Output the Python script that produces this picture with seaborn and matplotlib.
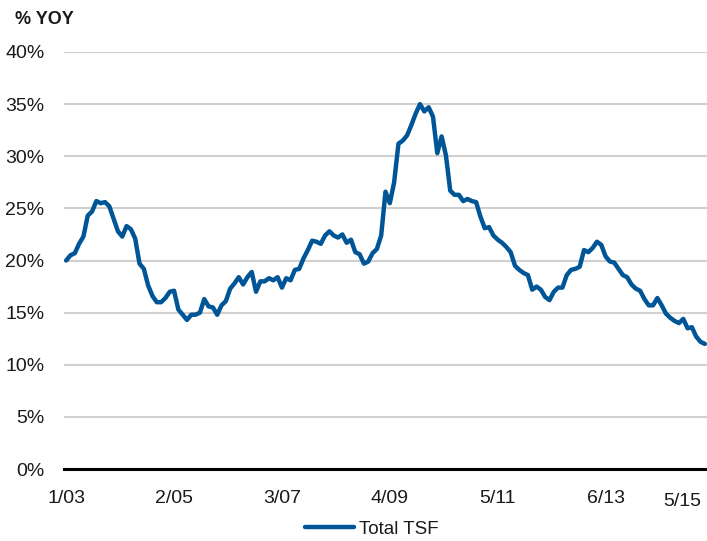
import numpy as np
import pandas as pd
import matplotlib
matplotlib.use("Agg")
import matplotlib.pyplot as plt
import matplotlib.transforms as mtransforms
from matplotlib import font_manager
import seaborn as sns

# ---- data ----
start_month = "2003-01"
tsf_yoy = [
    20.0, 20.5, 20.7, 21.6, 22.3, 24.3, 24.7, 25.7, 25.5, 25.6, 25.2, 24.0,
    22.8, 22.3, 23.3, 23.0, 22.1, 19.7, 19.2, 17.6, 16.6, 16.0, 16.0, 16.4,
    17.0, 17.1, 15.3, 14.8, 14.3, 14.8, 14.8, 15.0, 16.3, 15.6, 15.5, 14.8,
    15.7, 16.1, 17.3, 17.8, 18.4, 17.7, 18.4, 18.9, 17.0, 18.0, 18.0, 18.3,
    18.1, 18.4, 17.4, 18.3, 18.1, 19.1, 19.2, 20.2, 21.0, 21.9, 21.8, 21.6,
    22.4, 22.8, 22.4, 22.2, 22.5, 21.7, 22.0, 20.8, 20.6, 19.7, 19.9, 20.7,
    21.1, 22.4, 26.6, 25.5, 27.5, 31.2, 31.5, 32.0, 33.0, 34.1, 35.0, 34.3,
    34.7, 33.8, 30.3, 31.9, 30.1, 26.7, 26.3, 26.3, 25.7, 25.9, 25.7, 25.6,
    24.2, 23.1, 23.2, 22.4, 22.0, 21.7, 21.3, 20.8, 19.5, 19.1, 18.8, 18.6,
    17.2, 17.5, 17.2, 16.5, 16.2, 17.0, 17.4, 17.4, 18.6, 19.1, 19.2, 19.4,
    21.0, 20.8, 21.2, 21.8, 21.5, 20.4, 19.9, 19.8, 19.2, 18.6, 18.4, 17.7,
    17.3, 17.1, 16.3, 15.7, 15.7, 16.4, 15.7, 14.9, 14.5, 14.2, 14.0, 14.4,
    13.5, 13.6, 12.7, 12.2, 12.0,
]
tick_dates = ["2003-01", "2005-02", "2007-03", "2009-04", "2011-05", "2013-06", "2015-05"]
y_ticks = [0, 5, 10, 15, 20, 25, 30, 35, 40]
series_name = "Total TSF"
y_title = "% YOY"

dates = pd.date_range(start_month, periods=len(tsf_yoy), freq="MS")
df = pd.DataFrame({"date": dates, "idx": np.arange(len(tsf_yoy)), "value": tsf_yoy})

# ---- fonts ----
available = {f.name for f in font_manager.fontManager.ttflist}
fam = "Liberation Sans Narrow" if "Liberation Sans Narrow" in available else "Liberation Sans"

sns.set_theme(style="white")
plt.rcParams["font.family"] = [fam, "DejaVu Sans"]

W, H = 707, 541
fig = plt.figure(figsize=(W / 100, H / 100), dpi=100)
left, right, bottom, top = 64, 707, 469, 52
ax = fig.add_axes([left / W, 1 - bottom / H, (right - left) / W, (bottom - top) / H])

line_color = "#005596"
sns.lineplot(data=df, x="idx", y="value", ax=ax, color=line_color, linewidth=3.2,
             label=series_name, legend=False)

ax.set_xlim(-0.5, len(tsf_yoy) - 0.5)
ax.set_ylim(0, 40)
ax.set_yticks(y_ticks)
ax.set_yticklabels([f"{v}%" for v in y_ticks])
ax.yaxis.grid(True, color="#d0d0d0", linewidth=1.5)
ax.xaxis.grid(False)
for s in ["top", "right", "left"]:
    ax.spines[s].set_visible(False)
ax.spines["bottom"].set_color("black")
ax.spines["bottom"].set_linewidth(2.2)
ax.set_axisbelow(True)

tick_pos = [int(np.where(dates == pd.Timestamp(d))[0][0]) for d in tick_dates]
tick_lab = [f"{pd.Timestamp(d).month}/{pd.Timestamp(d).strftime('%y')}" for d in tick_dates]
ax.set_xticks(tick_pos)
ax.set_xticklabels(tick_lab)
ax.tick_params(axis="both", length=0, labelsize=14, colors="#1a1a1a")
ax.tick_params(axis="x", pad=15)
ax.tick_params(axis="y", pad=14)
last = ax.get_xticklabels()[-1]
last.set_horizontalalignment("right")
last.set_transform(last.get_transform() + mtransforms.ScaledTranslation(-0.04, -0.03, fig.dpi_scale_trans))
ax.set_xlabel("")
ax.set_ylabel("")

for line in ax.lines:
    line.set_clip_on(False)

fig.text(15 / W, 1 - 19 / H, y_title, fontsize=13, fontweight="bold", ha="left", va="center", color="#1a1a1a")

handles, labels = ax.get_legend_handles_labels()
fig.legend(handles, labels, loc="center", bbox_to_anchor=(372 / W, 1 - 529 / H), frameon=False,
           fontsize=13.5, handlelength=2.6, handletextpad=0.3, labelcolor="#1a1a1a")

fig.savefig("out.png", dpi=100)
